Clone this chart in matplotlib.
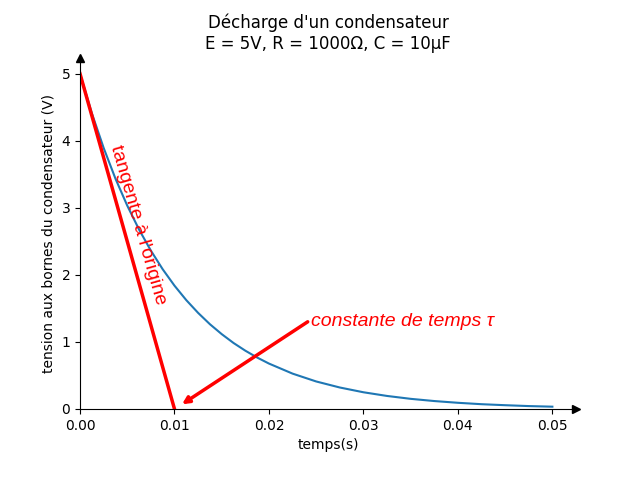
import matplotlib
matplotlib.use("Agg")
import matplotlib.pyplot as plt

t = [0.0, 0.00125, 0.0025, 0.00375, 0.005, 0.00625, 0.0075, 0.00875, 0.01,
     0.01125, 0.0125, 0.01375, 0.015, 0.01625, 0.0175, 0.01875, 0.02,
     0.0225, 0.025, 0.0275, 0.03, 0.0325, 0.035, 0.0375, 0.04, 0.0425, 0.045, 0.0475, 0.05]
u = [5.0, 4.412, 3.894, 3.436, 3.033, 2.676, 2.362, 2.084, 1.839,
     1.623, 1.433, 1.264, 1.116, 0.984, 0.869, 0.767, 0.677,
     0.527, 0.410, 0.320, 0.249, 0.194, 0.151, 0.118, 0.092, 0.071, 0.056, 0.043, 0.034]
tangent_t = [0.0, 0.01]
tangent_u = [5.0, 0.0]

fig, ax = plt.subplots(figsize=(6.4, 4.8), dpi=100)
fig.subplots_adjust(bottom=0.148, top=0.88)
ax.plot(t, u, color='#1f77b4')
ax.plot(tangent_t, tangent_u, color='red', lw=2.5)
ax.set_xlim(0, 0.0525)
ax.set_ylim(0, 5.24)
for s in ['top', 'right']:
    ax.spines[s].set_visible(False)
ax.plot(1, 0, ">k", transform=ax.transAxes, clip_on=False)
ax.plot(0, 1, "^k", transform=ax.transAxes, clip_on=False)
ax.text(0.0061, 2.75, "tangente à l'origine", color='red', fontsize=14,
        family='Liberation Sans', rotation=-74, ha='center', va='center')
ax.annotate("", xy=(0.0108, 0.07), xytext=(0.0241, 1.3),
            arrowprops=dict(arrowstyle='-|>', color='red', lw=2.5, shrinkA=0, shrinkB=0))
ax.text(0.0245, 1.3, "constante de temps τ", color='red', fontsize=14,
        family='Liberation Sans', style='italic', va='center')
ax.set_xlabel("temps(s)")
ax.set_ylabel("tension aux bornes du condensateur (V)")
ax.set_title("Décharge d'un condensateur\nE = 5V, R = 1000Ω, C = 10µF")
fig.savefig("out.png")
